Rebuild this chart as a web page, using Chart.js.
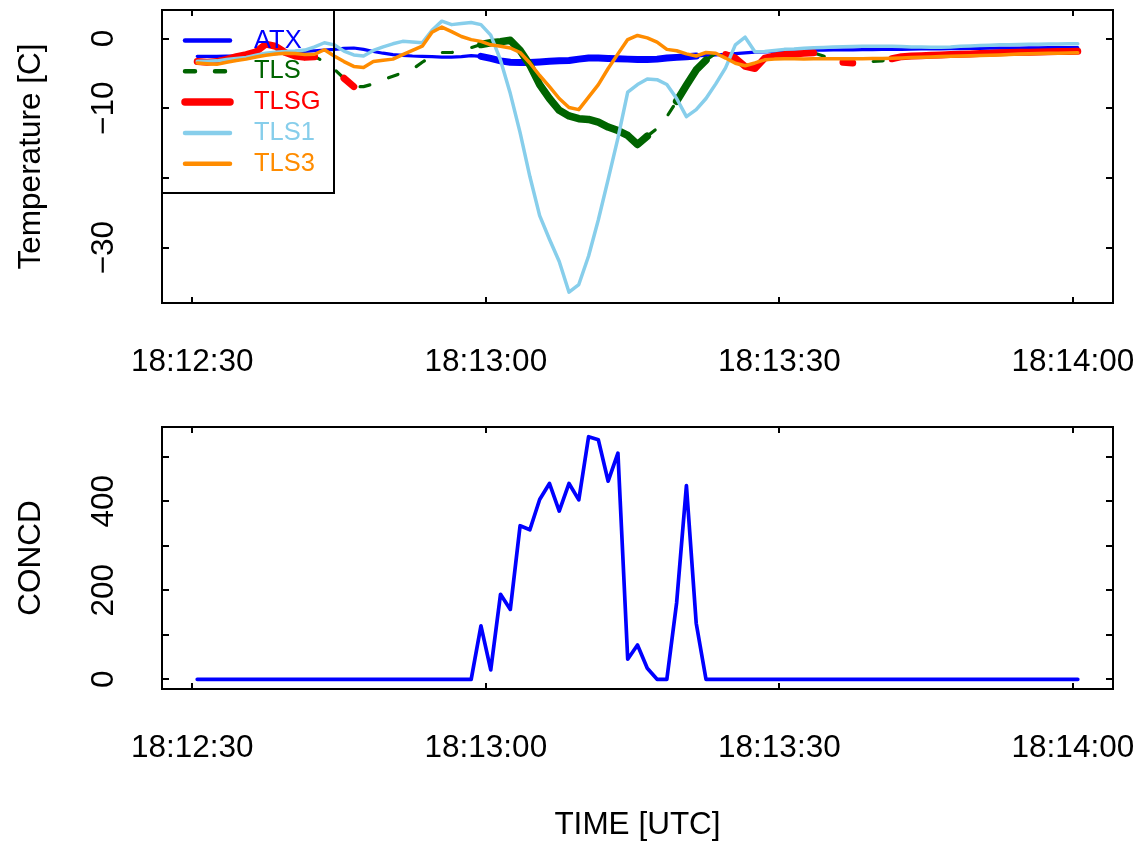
<!DOCTYPE html>
<html>
<head>
<meta charset="utf-8">
<script src="https://cdn.jsdelivr.net/npm/chart.js@4/dist/chart.umd.min.js"></script>
<style>
body { margin: 0; background: #fff; }
#wrap { position: relative; width: 1139px; height: 842px; }
canvas { position: absolute; left: 0; }
</style>
</head>
<body>
<div id="wrap">
<canvas id="tempChart" width="1139" height="410" style="top:0"></canvas>
<canvas id="concChart" width="1139" height="432" style="top:410px"></canvas>
</div>
<script>
// seconds after 18:12:30 UTC
var secs = [0.5,1.5,2.5,3.5,4.5,5.5,6.5,7.5,8.5,9.5,
  10.5,11.5,12.5,13.5,14.5,15.5,16.5,17.5,18.5,19.5,
  20.5,21.5,22.5,23.5,24.5,25.5,26.5,27.5,28.5,29.5,
  30.5,31.5,32.5,33.5,34.5,35.5,36.5,37.5,38.5,39.5,
  40.5,41.5,42.5,43.5,44.5,45.5,46.5,47.5,48.5,49.5,
  50.5,51.5,52.5,53.5,54.5,55.5,56.5,57.5,58.5,59.5,
  60.5,61.5,62.5,63.5,64.5,65.5,66.5,67.5,68.5,69.5,
  70.5,71.5,72.5,73.5,74.5,75.5,76.5,77.5,78.5,79.5,
  80.5,81.5,82.5,83.5,84.5,85.5,86.5,87.5,88.5,89.5,
  90.5];

var timeTicks = [0, 30, 60, 90];
var timeLabels = ['18:12:30', '18:13:00', '18:13:30', '18:14:00'];

var tempTicks = [0, -10, -20, -30];
var tempLabels = ['0', '\u221210', '', '\u221230'];
var concTicks = [0, 100, 200, 300, 400, 500];
var concLabels = ['0', '', '200', '', '400', ''];

var atx = [-2.55,-2.55,-2.55,-2.5,-2.5,-2.45,-2.35,-2.25,-2.15,-2.05,
  -1.95,-1.85,-1.75,-1.65,-1.55,-1.4,-1.35,-1.55,-1.85,-2.1,
  -2.3,-2.4,-2.5,-2.55,-2.6,-2.65,-2.65,-2.6,-2.45,-2.55,
  -2.85,-3.2,-3.4,-3.45,-3.45,-3.35,-3.25,-3.2,-3.15,-2.95,
  -2.8,-2.8,-2.85,-2.9,-2.95,-3.0,-3.0,-2.95,-2.8,-2.7,
  -2.6,-2.5,-2.4,-2.35,-2.25,-2.15,-2.05,-1.95,-1.9,-1.85,
  -1.75,-1.7,-1.68,-1.67,-1.65,-1.64,-1.62,-1.61,-1.6,-1.58,
  -1.57,-1.56,-1.54,-1.52,-1.5,-1.49,-1.47,-1.45,-1.44,-1.42,
  -1.41,-1.39,-1.38,-1.36,-1.35,-1.33,-1.32,-1.31,-1.3,-1.29,
  -1.28];

var tls = [-3.3,-3.4,-3.3,-3.0,-2.6,-2.3,-1.9,-0.8,-1.1,-2.0,
  -2.5,-2.7,-2.6,-3.3,-4.4,-5.7,-6.9,-6.9,-6.5,-5.9,
  -5.4,-4.9,-4.4,-3.4,-2.5,-2.0,-2.0,-1.7,-1.3,-0.85,
  -0.6,-0.45,-0.25,-1.7,-3.8,-6.6,-8.6,-10.3,-11.1,-11.5,
  -11.6,-12.0,-12.7,-13.2,-13.9,-15.2,-14.0,-12.9,-11.2,-9.0,
  -6.7,-4.5,-3.1,-2.1,-2.3,-2.8,-4.0,-4.3,-2.8,-2.5,
  -2.3,-2.2,-2.1,-2.05,-2.5,-3.1,-3.4,-3.5,-3.4,-3.3,
  -3.2,-2.9,-2.6,-2.5,-2.45,-2.4,-2.35,-2.3,-2.25,-2.2,
  -2.15,-2.1,-2.05,-2.0,-1.98,-1.95,-1.92,-1.9,-1.87,-1.85,
  -1.82];

var tlsg = [-3.3,-3.4,-3.3,-3.0,-2.6,-2.3,-1.9,-0.8,-1.1,-2.0,
  -2.5,-2.7,-2.6,null,null,-5.7,-6.9,null,null,null,
  null,null,null,null,null,null,null,null,null,null,
  null,null,null,null,null,null,null,null,null,null,
  null,null,null,null,null,null,null,null,null,null,
  null,null,null,null,-2.3,-2.8,-4.0,-4.3,-2.8,-2.5,
  -2.3,-2.2,-2.1,-2.05,null,null,-3.4,-3.5,null,null,
  null,-2.9,-2.6,-2.5,-2.45,-2.4,-2.35,-2.3,-2.25,-2.2,
  -2.15,-2.1,-2.05,-2.0,-1.98,-1.95,-1.92,-1.9,-1.87,-1.85,
  -1.82];

var tls1 = [-3.26,-3.26,-3.2,-3.0,-2.85,-2.7,-2.4,-2.1,-1.95,-1.85,
  -1.8,-1.65,-1.2,-0.6,-0.9,-1.8,-2.35,-2.5,-1.7,-1.2,
  -0.75,-0.4,-0.5,-0.6,1.2,2.5,2.0,2.15,2.3,2.0,
  0.5,-3.1,-7.9,-13.5,-19.8,-25.4,-28.8,-32.0,-36.4,-35.3,
  -31.2,-26.0,-20.2,-14.3,-7.7,-6.6,-5.8,-5.9,-6.6,-8.6,
  -11.2,-10.2,-8.6,-6.5,-4.2,-0.9,0.2,-1.9,-1.85,-1.7,
  -1.55,-1.5,-1.4,-1.33,-1.28,-1.22,-1.18,-1.15,-1.12,-1.1,
  -1.1,-1.12,-1.15,-1.2,-1.22,-1.25,-1.25,-1.2,-1.1,-1.05,
  -1.0,-0.95,-0.9,-0.87,-0.85,-0.82,-0.8,-0.78,-0.77,-0.76,
  -0.76];

var tls3 = [-3.5,-3.6,-3.7,-3.4,-3.15,-2.95,-2.65,-2.4,-2.2,-2.1,
  -2.15,-2.3,-2.25,-1.6,-2.5,-3.3,-4.0,-4.15,-3.3,-3.1,
  -2.95,-2.3,-1.7,-1.1,0.9,1.65,1.0,0.3,-0.15,-0.4,
  -0.9,-1.1,-1.35,-2.0,-3.5,-5.3,-6.9,-8.6,-9.9,-10.2,
  -8.4,-6.6,-4.3,-2.2,-0.15,0.45,0.1,-0.5,-1.55,-1.75,
  -2.2,-2.5,-2.0,-2.1,-2.8,-3.55,-3.9,-3.5,-3.05,-2.95,
  -2.9,-2.9,-2.92,-2.9,-2.9,-2.88,-2.9,-2.9,-2.88,-2.87,
  -2.85,-2.82,-2.78,-2.72,-2.67,-2.63,-2.58,-2.54,-2.5,-2.47,
  -2.43,-2.39,-2.35,-2.28,-2.22,-2.19,-2.15,-2.12,-2.09,-2.07,
  -2.05];

var concd = [0,0,0,0,0,0,0,0,0,0,
  0,0,0,0,0,0,0,0,0,0,
  0,0,0,0,0,0,0,0,0,120,
  21,191,157,345,336,404,440,378,440,403,
  545,538,445,508,45,77,25,0,0,172,
  435,126,0,0,0,0,0,0,0,0,
  0,0,0,0,0,0,0,0,0,0,
  0,0,0,0,0,0,0,0,0,0,
  0,0,0,0,0,0,0,0,0,0,
  0];

// sample index ranges where the line is drawn heavy
var atxHeavy = [[29, 51]];
var tlsHeavy = [[29, 46], [49, 52]];

function inRanges(i, ranges) {
  return ranges.some(function (r) { return i >= r[0] && i <= r[1]; });
}
function pts(vals) {
  return secs.map(function (s, i) { return { x: s, y: vals[i] }; });
}

var FONT = '"Liberation Sans", Arial, Helvetica, sans-serif';

var rFrame = {
  id: 'rFrame',
  afterDraw: function (chart, args, o) {
    var ctx = chart.ctx, a = chart.chartArea, xs = chart.scales.x, ys = chart.scales.y;
    ctx.save();
    ctx.strokeStyle = '#000';
    ctx.lineWidth = 2;
    ctx.strokeRect(a.left, a.top, a.right - a.left, a.bottom - a.top);
    ctx.beginPath();
    o.xTicks.forEach(function (v) {
      var p = Math.round(xs.getPixelForValue(v));
      ctx.moveTo(p, a.bottom); ctx.lineTo(p, a.bottom - 6);
      ctx.moveTo(p, a.top); ctx.lineTo(p, a.top + 6);
    });
    o.yTicks.forEach(function (v) {
      var p = Math.round(ys.getPixelForValue(v));
      ctx.moveTo(a.left, p); ctx.lineTo(a.left + 7, p);
      ctx.moveTo(a.right, p); ctx.lineTo(a.right - 7, p);
    });
    ctx.stroke();

    ctx.fillStyle = '#000';
    ctx.font = '31.5px ' + FONT;
    ctx.textAlign = 'center';
    ctx.textBaseline = 'middle';
    o.xTicks.forEach(function (v, i) {
      ctx.fillText(o.xLabels[i], xs.getPixelForValue(v), a.bottom + 59);
    });
    o.yTicks.forEach(function (v, i) {
      if (!o.yLabels[i]) return;
      ctx.save();
      ctx.translate(104, ys.getPixelForValue(v));
      ctx.rotate(-Math.PI / 2);
      ctx.fillText(o.yLabels[i], 0, 0);
      ctx.restore();
    });
    ctx.save();
    ctx.translate(31, (a.top + a.bottom) / 2);
    ctx.rotate(-Math.PI / 2);
    ctx.fillText(o.yTitle, 0, 0);
    ctx.restore();
    if (o.xTitle) ctx.fillText(o.xTitle, (a.left + a.right) / 2, a.bottom + 136);
    ctx.restore();
  }
};

var rLegend = {
  id: 'rLegend',
  afterDraw: function (chart, args, o) {
    if (!o.show) return;
    var ctx = chart.ctx, a = chart.chartArea;
    ctx.save();
    ctx.lineWidth = 2;
    ctx.strokeStyle = '#000';
    ctx.strokeRect(a.left, a.top, 172, 183);
    ctx.font = '25.5px ' + FONT;
    ctx.textBaseline = 'middle';
    ctx.textAlign = 'left';
    ctx.lineCap = 'round';
    chart.data.datasets.forEach(function (ds, i) {
      var y = a.top + 30.5 + i * 30.8;
      ctx.beginPath();
      ctx.strokeStyle = ds.borderColor;
      ctx.lineWidth = o.widths[i];
      ctx.setLineDash(o.dashes[i]);
      ctx.moveTo(a.left + 23, y);
      ctx.lineTo(a.left + 68, y);
      ctx.stroke();
      ctx.setLineDash([]);
      ctx.fillStyle = ds.borderColor;
      ctx.fillText(ds.label, a.left + 92, y);
    });
    ctx.restore();
  }
};

var lineDefaults = { tension: 0, borderCapStyle: 'round', borderJoinStyle: 'round' };

new Chart(document.getElementById('tempChart'), {
  type: 'line',
  plugins: [rFrame, rLegend],
  data: {
    datasets: [
      {
        label: 'ATX', data: pts(atx), borderColor: '#0000FF', borderWidth: 3.2, order: 5,
        segment: {
          borderWidth: function (c) { return inRanges(c.p0DataIndex, atxHeavy) && inRanges(c.p1DataIndex, atxHeavy) ? 7 : 3.2; }
        }
      },
      {
        label: 'TLS', data: pts(tls), borderColor: '#006400', borderWidth: 3.2, order: 4,
        segment: {
          borderWidth: function (c) { return inRanges(c.p0DataIndex, tlsHeavy) && inRanges(c.p1DataIndex, tlsHeavy) ? 7.5 : 3.2; },
          borderDash: function (c) { return inRanges(c.p0DataIndex, tlsHeavy) && inRanges(c.p1DataIndex, tlsHeavy) ? [] : [10, 20]; }
        }
      },
      { label: 'TLSG', data: pts(tlsg), borderColor: '#FF0000', borderWidth: 7, order: 3 },
      { label: 'TLS1', data: pts(tls1), borderColor: '#87CEEB', borderWidth: 3.5, order: 2 },
      { label: 'TLS3', data: pts(tls3), borderColor: '#FF8C00', borderWidth: 3.5, order: 1 }
    ]
  },
  options: {
    responsive: false,
    animation: false,
    devicePixelRatio: 1,
    layout: { padding: { left: 162, top: 10, right: 26, bottom: 107 } },
    elements: { point: { radius: 0 }, line: lineDefaults },
    scales: {
      x: { type: 'linear', display: false, min: -3.1, max: 94.1 },
      y: { type: 'linear', display: false, min: -37.95, max: 4.1 }
    },
    plugins: {
      legend: { display: false },
      tooltip: { enabled: false },
      rFrame: { xTicks: timeTicks, xLabels: timeLabels, yTicks: tempTicks, yLabels: tempLabels, yTitle: 'Temperature [C]' },
      rLegend: { show: true, widths: [4.5, 4.5, 7.5, 4.5, 4.5], dashes: [[], [10, 20], [], [], []] }
    }
  }
});

new Chart(document.getElementById('concChart'), {
  type: 'line',
  plugins: [rFrame],
  data: {
    datasets: [
      { label: 'CONCD', data: pts(concd), borderColor: '#0000FF', borderWidth: 3.7 }
    ]
  },
  options: {
    responsive: false,
    animation: false,
    devicePixelRatio: 1,
    layout: { padding: { left: 162, top: 17, right: 26, bottom: 153 } },
    elements: { point: { radius: 0 }, line: lineDefaults },
    scales: {
      x: { type: 'linear', display: false, min: -3.1, max: 94.1 },
      y: { type: 'linear', display: false, min: -21.8, max: 566.8 }
    },
    plugins: {
      legend: { display: false },
      tooltip: { enabled: false },
      rFrame: { xTicks: timeTicks, xLabels: timeLabels, yTicks: concTicks, yLabels: concLabels, yTitle: 'CONCD', xTitle: 'TIME [UTC]' }
    }
  }
});
</script>
</body>
</html>
